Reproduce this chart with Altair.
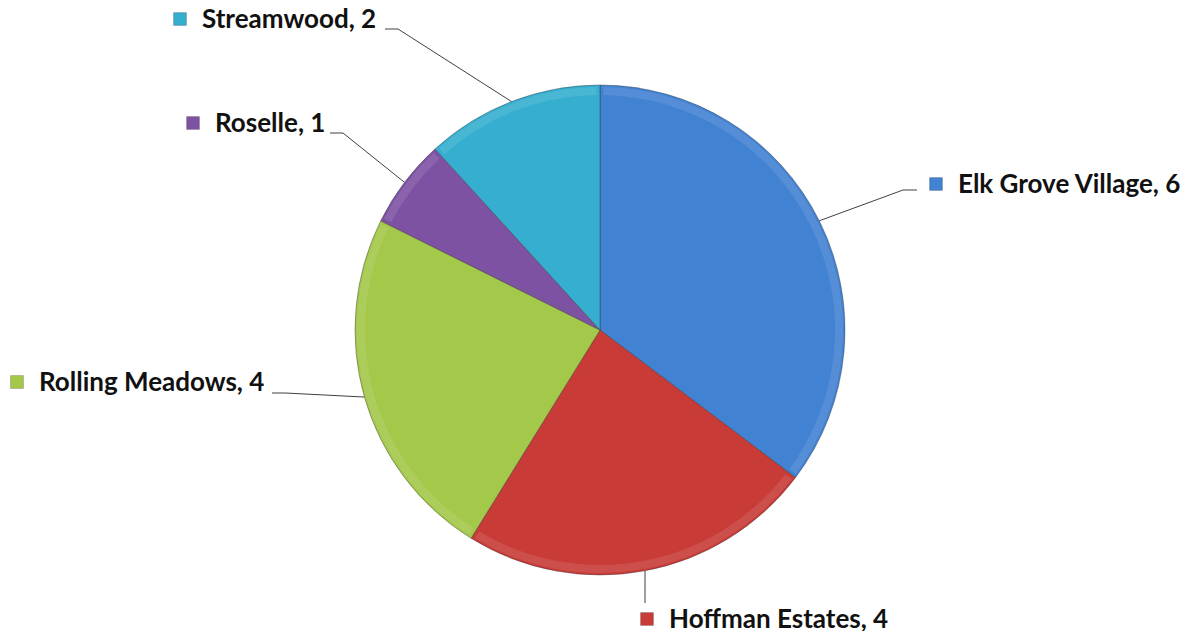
import altair as alt
import pandas as pd

# ---- data ----
cities = ["Elk Grove Village", "Hoffman Estates", "Rolling Meadows", "Roselle", "Streamwood"]
counts = [6, 4, 4, 1, 2]
colors = ["#4282d3", "#c83b37", "#a3c84a", "#7d52a3", "#35aed0"]

# ---- layout (chart pixel coordinates of label pieces; styling only) ----
CX, CY, R = 592, 322, 245
label_layout = {
    # city: (elbow_x, elbow_y, stub_end_x, marker_x, marker_y)
    "Elk Grove Village": (895, 182, 909, 928, 176),
    "Hoffman Estates": (637, 595, 637, 639, 611),
    "Rolling Meadows": (277, 385, 264, 9, 374),
    "Roselle": (335, 125, 322, 185, 115),
    "Streamwood": (390, 21, 377, 172, 11),
}

df = pd.DataFrame({"city": cities, "value": counts, "idx": list(range(len(cities)))})
df["elbow_x"] = [label_layout[c][0] for c in cities]
df["elbow_y"] = [label_layout[c][1] for c in cities]
df["end_x"] = [label_layout[c][2] for c in cities]
df["label_x"] = [label_layout[c][3] for c in cities]
df["label_y"] = [label_layout[c][4] for c in cities]

color_scale = alt.Scale(domain=cities, range=colors)

base = alt.Chart(df).transform_joinaggregate(
    total="sum(value)"
).transform_window(
    cum="sum(value)", sort=[alt.SortField("idx")], frame=[None, 0]
).transform_calculate(
    mid="((datum.cum - datum.value/2) / datum.total) * 2 * PI",
    label="datum.city + ', ' + datum.value",
).transform_calculate(
    edge_x=f"{CX} + {R} * sin(datum.mid)",
    edge_y=f"{CY} - {R} * cos(datum.mid)",
)

pie = base.mark_arc(outerRadius=R, stroke="#2e2e2e", strokeWidth=0.7, strokeOpacity=0.55).encode(
    theta=alt.Theta("value:Q", stack=True),
    order=alt.Order("idx:Q"),
    color=alt.Color("city:N", scale=color_scale, legend=None),
    x=alt.value(CX),
    y=alt.value(CY),
)

# subtle bevel highlight near the rim
bevel = base.mark_arc(outerRadius=R - 2, innerRadius=R - 10, color="white", opacity=0.10, padAngle=0.02).encode(
    theta=alt.Theta("value:Q", stack=True),
    order=alt.Order("idx:Q"),
    x=alt.value(CX),
    y=alt.value(CY),
)

leader1 = base.mark_rule(color="#404040", strokeWidth=1).encode(
    x=alt.X("edge_x:Q", scale=None, axis=None),
    y=alt.Y("edge_y:Q", scale=None, axis=None),
    x2="elbow_x:Q",
    y2="elbow_y:Q",
)

leader2 = base.mark_rule(color="#404040", strokeWidth=1).encode(
    x=alt.X("elbow_x:Q", scale=None, axis=None),
    y=alt.Y("elbow_y:Q", scale=None, axis=None),
    x2="end_x:Q",
    y2="elbow_y:Q",
)

markers = base.mark_square(size=165, stroke="#00000040", strokeWidth=0.8, opacity=1).encode(
    x=alt.X("label_x:Q", scale=None, axis=None),
    y=alt.Y("label_y:Q", scale=None, axis=None),
    color=alt.Color("city:N", scale=color_scale, legend=None),
)

texts = base.mark_text(
    align="left", baseline="alphabetic", dx=22, dy=9,
    font="Lato", fontWeight="bold", fontSize=26, color="#111111",
).encode(
    x=alt.X("label_x:Q", scale=None, axis=None),
    y=alt.Y("label_y:Q", scale=None, axis=None),
    text="label:N",
)

chart = alt.layer(pie, bevel, leader1, leader2, markers, texts).properties(
    width=1182, height=623, padding=0,
    autosize=alt.AutoSizeParams(type="none"),
).configure_view(stroke=None)

chart.save("out.html", embed_options={"renderer": "svg", "actions": False})
